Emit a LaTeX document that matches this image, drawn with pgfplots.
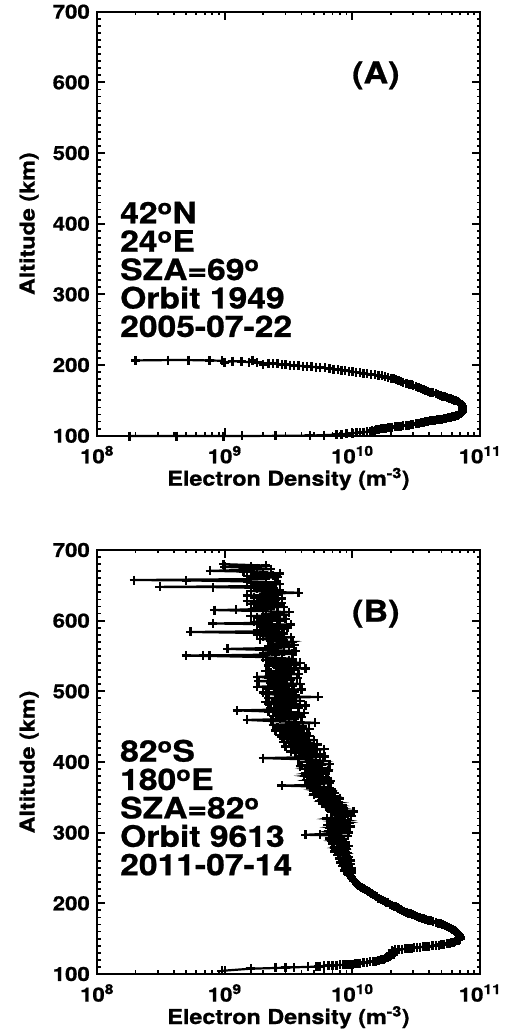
\documentclass[border=0pt]{standalone}
\usepackage{fontspec}
\setmainfont{TeX Gyre Heros}[FakeStretch=1.14, BoldFeatures={FakeBold=0.8}]
\usepackage{pgfplots}
\pgfplotsset{compat=1.18}
\pgfplotsset{
  ionostyle/.style={
    scale only axis, width=383pt, height=424pt,
    xmin=1e8, xmax=1e11, ymin=100, ymax=700,
    xtick={1e8,1e9,1e10,1e11},
    xticklabels={10\textsuperscript{8},10\textsuperscript{9},10\textsuperscript{10},10\textsuperscript{11}},
    ytick={100,200,300,400,500,600,700},
    yticklabels={100,200,300,400,500,600,700},
    minor y tick num=9,
    tick align=inside,
    xtick pos=both, ytick pos=both,
    major tick length=8pt, minor tick length=3.5pt,
    tick style={black, line width=1.8pt},
    axis line style={line width=2.2pt},
    tick label style={font=\fontsize{19.5}{19.5}\selectfont\bfseries},
    xticklabel style={anchor=base, inner sep=0pt, yshift=-27.6pt},
    yticklabel style={anchor=east, inner sep=0pt, xshift=-7pt},
    label style={font=\fontsize{20.5}{20.5}\selectfont\bfseries},
    xlabel={Electron Density (m\textsuperscript{-3})},
    ylabel={Altitude (km)},
    xlabel style={at={(axis description cs:0.5,0)}, anchor=base, inner sep=0pt, yshift=-50pt},
    ylabel style={at={(axis description cs:-0.1775,0.5)}, anchor=center, inner sep=0pt},
    clip=false,
  },
}
\tikzset{
  profstyle/.style={black, line width=2.2pt, mark=+, mark size=4.5pt, mark options={line width=2.4pt}},
  annottext/.style={anchor=base west, inner sep=0pt, font=\fontsize{29.5}{29.5}\selectfont\bfseries},
  paneltext/.style={anchor=base, inner sep=0pt, font=\fontsize{30}{30}\selectfont\bfseries},
}
\begin{document}
\begin{tikzpicture}[x=1pt,y=1pt]
\useasboundingbox (0,0) rectangle (504,1034);
% Panel A
\begin{axis}[xmode=log, ionostyle, at={(97pt,598.3pt)}, anchor=south west]
\addplot[profstyle] coordinates {
(1.8e8,99.5) (4.2e8,99.5) (9.8e8,99.5) (1.36e9,99.6) (2.5e9,99.8) (4.65e9,100.2) (6.0e9,100.8) (7.5e9,101.5) (8.2e9,102) (9.0e9,102.5)
(1.0e10,103.5) (1.08e10,104) (1.15e10,104.5) (1.22e10,105) (1.3e10,105.5) (1.38e10,106) (1.45e10,106.5) (1.42e10,107.5) (1.5e10,108) (1.55e10,108.5)
(1.6e10,109) (1.68e10,109.5) (1.75e10,110) (1.82e10,110.5) (1.9e10,111) (1.98e10,111.5) (2.05e10,112) (2.15e10,112.5) (2.25e10,113) (2.38e10,113.5)
(2.5e10,114) (2.62e10,114.5) (2.75e10,115) (2.88e10,115.5) (3.0e10,116) (3.15e10,116.8) (3.3e10,117.5) (3.45e10,118.2) (3.6e10,119) (3.75e10,119.5)
(3.9e10,120) (4.05e10,120.8) (4.2e10,121.5) (4.4e10,122) (4.6e10,122.5) (4.8e10,123) (5.0e10,123.5) (5.2e10,124) (5.4e10,124.5) (5.65e10,125.2)
(5.9e10,126) (6.1e10,126.8) (6.3e10,127.5) (6.5e10,128.2) (6.7e10,129) (6.85e10,130) (7.0e10,131) (7.1e10,132) (7.2e10,133) (7.25e10,134.2)
(7.3e10,135.5) (7.35e10,136.8) (7.35e10,138) (7.32e10,139.5) (7.3e10,141) (7.25e10,142.2) (7.2e10,143.5) (7.1e10,144.8) (7.0e10,146) (6.85e10,147.2)
(6.7e10,148.5) (6.5e10,149.5) (6.3e10,150.5) (6.1e10,151.5) (5.9e10,152.5) (5.7e10,153.2) (5.5e10,154) (5.3e10,155) (5.1e10,156) (4.9e10,157)
(4.7e10,158) (4.5e10,159.2) (4.3e10,160.5) (4.1e10,161.8) (3.9e10,163) (3.75e10,164.2) (3.6e10,165.5) (3.45e10,166.8) (3.3e10,168) (3.15e10,169.2)
(3.0e10,170.5) (2.9e10,171.8) (2.8e10,173) (2.65e10,174.2) (2.5e10,175.5) (2.4e10,176.8) (2.3e10,178) (2.2e10,179.2) (2.1e10,180.5) (2.0e10,181.5)
(1.9e10,182.5) (1.8e10,183.5) (1.7e10,184.5) (1.6e10,185.2) (1.5e10,186) (1.4e10,186.8) (1.3e10,187.5) (1.22e10,188.2) (1.15e10,189) (1.07e10,189.8)
(1.0e10,190.5) (9.4e9,191.2) (8.8e9,192) (8.2e9,192.8) (7.7e9,193.5) (7.1e9,194.2) (6.6e9,195) (6.1e9,195.8) (5.6e9,196.5) (5.2e9,197)
(4.8e9,197.5) (4.4e9,198) (4.1e9,198.5) (3.8e9,199) (3.5e9,199.5) (3.25e9,200) (3.0e9,200.5) (2.8e9,201) (2.6e9,201.5) (2.4e9,202)
(2.2e9,202.5) (2.0e9,201) (1.8e9,203.5) (1.65e9,207) (1.55e9,204) (1.35e9,205) (1.15e9,205.5) (1.0e9,203.5) (9.5e8,206) (7.6e8,206.5)
(5.2e8,207) (3.6e8,207) (2.0e8,206.5)
};
\node[annottext] at (rel axis cs:0.06,0.501) {42\textsuperscript{o}N};
\node[annottext] at (rel axis cs:0.06,0.434) {24\textsuperscript{o}E};
\node[annottext] at (rel axis cs:0.06,0.367) {SZA=69\textsuperscript{o}};
\node[annottext] at (rel axis cs:0.06,0.300) {Orbit 1949};
\node[annottext] at (rel axis cs:0.06,0.233) {2005-07-22};
\node[paneltext] at (rel axis cs:0.728,0.831) {(A)};
\end{axis}
% Panel B
\begin{axis}[xmode=log, ionostyle, at={(97pt,60pt)}, anchor=south west]
\addplot[profstyle] coordinates {
(9.5e8,104.5) (1.6e9,107.5) (2.5e9,108.5) (3.0e9,109) (3.5e9,109.5) (4.5e9,110) (5.4e9,110.5) (5.6e9,111) (5.2e9,110) (6.0e9,111.5)
(6.5e9,112) (7.0e9,112.2) (7.5e9,112.5) (8.0e9,112.8) (8.5e9,113) (9.0e9,113.2) (9.5e9,113.5) (1.0e10,114) (1.05e10,114.5) (1.1e10,115)
(1.15e10,115.5) (1.22e10,116) (1.3e10,116.5) (1.38e10,117) (1.45e10,117.5) (1.52e10,118.2) (1.6e10,119) (1.68e10,120) (1.75e10,121) (1.8e10,122)
(1.85e10,123) (1.9e10,124) (1.95e10,125) (2.0e10,126) (2.1e10,127) (2.05e10,128) (2.0e10,129) (2.1e10,130) (2.15e10,131) (2.1e10,132)
(2.05e10,133) (2.15e10,134) (2.3e10,134.5) (2.45e10,135) (2.6e10,135.5) (2.75e10,136) (2.9e10,136.5) (3.05e10,137) (3.2e10,137.5) (3.4e10,138)
(3.6e10,138.5) (3.8e10,139) (4.0e10,139.5) (4.25e10,140) (4.5e10,140.5) (4.75e10,141) (5.0e10,141.5) (5.25e10,142.2) (5.5e10,143) (5.75e10,143.8)
(6.0e10,144.5) (6.2e10,145.2) (6.4e10,146) (6.6e10,147) (6.8e10,148) (6.9e10,149.2) (7.0e10,150.5) (7.0e10,151.8) (6.9e10,153) (6.85e10,154.5)
(6.8e10,156) (6.7e10,157.5) (6.6e10,159) (6.45e10,160.5) (6.3e10,162) (6.1e10,163.5) (5.9e10,165) (5.7e10,166.2) (5.5e10,167.5) (5.3e10,168.8)
(5.1e10,170) (4.9e10,171) (4.7e10,172) (4.5e10,173) (4.3e10,174) (4.1e10,175) (3.9e10,176) (3.75e10,177) (3.6e10,178) (3.5e10,179)
(3.35e10,180) (3.2e10,181.2) (3.1e10,182.5) (2.95e10,183.8) (2.85e10,185) (2.75e10,186.2) (2.65e10,187.5) (2.55e10,188.8) (2.45e10,190) (2.38e10,191.2)
(2.3e10,192.5) (2.25e10,193.8) (2.2e10,195) (2.12e10,196.2) (2.05e10,197.5) (1.98e10,199) (1.9e10,200.5) (1.85e10,201.8) (1.8e10,203) (1.74e10,204.5)
(1.68e10,206) (1.6e10,207.5) (1.55e10,209) (1.5e10,210.5) (1.45e10,212) (1.41e10,213.5) (1.38e10,215) (1.34e10,216.5) (1.3e10,218) (1.26e10,219.5)
(1.22e10,221) (1.18e10,222.5) (1.15e10,224) (1.12e10,225.5) (1.1e10,227) (1.07e10,228.5) (1.05e10,230) (1.03e10,231.5) (1.02e10,233) (1.0e10,234.5)
(9.8e9,236) (9.9e9,237.5) (9.6e9,239) (9.4e9,240.5) (9.3e9,242) (9.8e9,243.5) (9.8e9,245) (8.7e9,246.5) (9.0e9,248) (9.9e9,249.5)
(9.4e9,251) (8.4e9,252.5) (8.6e9,254) (9.3e9,255) (9.6e9,256) (8.1e9,257.5) (8.3e9,259) (9.7e9,260.5) (9.2e9,262) (8.0e9,263)
(7.9e9,264) (9.4e9,265.5) (9.0e9,267) (7.7e9,268.5) (8.0e9,270) (9.2e9,271) (8.8e9,272) (7.3e9,273.5) (7.4e9,275) (9.0e9,276.5)
(8.5e9,278) (7.2e9,279) (7.6e9,280) (9.3e9,281.5) (8.9e9,283) (7.0e9,284) (7.1e9,285) (8.7e9,286.5) (8.2e9,288) (6.9e9,289)
(7.4e9,290) (8.6e9,291) (6.6e9,292) (7.3e9,293) (7.9e9,294) (9.2e9,295.5) (4.3e9,297) (5.6e9,298) (6.8e9,299) (9.4e9,300)
(8.1e9,301) (6.5e9,302) (7.0e9,303) (8.8e9,304) (9.0e9,305) (7.1e9,306) (6.6e9,307) (9.6e9,308.5) (8.4e9,310) (6.4e9,311)
(7.2e9,312) (8.9e9,313) (9.5e9,314) (7.6e9,315) (7.0e9,316) (9.2e9,317.5) (8.2e9,319) (6.3e9,320) (6.8e9,321) (8.5e9,322.5)
(9.8e9,324) (7.7e9,325) (7.4e9,326) (9.0e9,327) (8.6e9,328) (6.9e9,329) (1.02e10,330) (7.5e9,331.5) (6.9e9,333) (8.6e9,334)
(8.0e9,335) (6.4e9,336) (6.2e9,337) (8.3e9,338.5) (7.6e9,340) (5.9e9,341) (6.0e9,342) (7.8e9,343) (7.2e9,344) (5.5e9,345)
(5.7e9,346) (7.9e9,347.5) (8.0e9,349) (6.2e9,350) (5.5e9,351) (7.2e9,352) (6.8e9,353) (5.0e9,354) (5.2e9,355) (7.3e9,356.5)
(7.0e9,358) (5.4e9,359) (5.0e9,360) (6.8e9,361) (6.5e9,362) (4.9e9,363) (4.7e9,364) (6.0e9,365) (2.8e9,366.5) (4.6e9,367.5)
(5.6e9,369) (6.6e9,370) (4.5e9,371) (5.2e9,372) (6.8e9,373) (4.4e9,374.5) (4.9e9,376) (6.4e9,377) (6.2e9,378) (4.6e9,379)
(4.2e9,380) (5.5e9,381.5) (5.8e9,383) (4.3e9,384) (4.6e9,385) (6.2e9,386.5) (6.5e9,388) (4.7e9,389) (4.3e9,390) (5.8e9,391.5)
(5.4e9,393) (3.9e9,394) (4.0e9,395) (5.7e9,396) (6.6e9,397) (4.8e9,398.5) (4.4e9,400) (5.9e9,401.5) (5.2e9,403) (3.8e9,404)
(2.0e9,405.5) (4.8e9,407) (6.1e9,408) (4.6e9,409) (4.1e9,410) (5.6e9,411) (3.6e9,412.5) (5.0e9,414) (3.3e9,415) (4.5e9,416.5)
(6.0e9,418) (3.5e9,419) (4.8e9,420.5) (3.0e9,422) (4.2e9,423) (5.3e9,424.5) (3.4e9,426) (4.6e9,427) (2.9e9,428.5) (4.4e9,430)
(5.0e9,431) (3.1e9,432.5) (4.0e9,434) (2.8e9,435) (4.6e9,436.5) (2.7e9,438) (3.6e9,439) (4.4e9,440.5) (3.0e9,442) (3.9e9,443)
(2.5e9,444.5) (3.7e9,446) (4.6e9,447) (2.6e9,448.5) (4.1e9,450) (3.2e9,451) (2.4e9,452.5) (3.6e9,454) (5.1e9,455.5) (3.2e9,457)
(2.3e9,458) (1.5e9,459.5) (3.5e9,461) (2.7e9,462) (4.0e9,463.5) (2.4e9,465) (3.6e9,466) (2.6e9,467.5) (4.2e9,469) (3.3e9,470)
(2.2e9,471.5) (1.25e9,473) (3.0e9,474.5) (2.3e9,476) (3.8e9,477) (2.6e9,478.5) (4.3e9,480) (3.0e9,481) (2.2e9,482.5) (3.4e9,484)
(2.1e9,485) (3.9e9,486.5) (2.5e9,488) (3.3e9,489) (2.2e9,490.5) (5.4e9,492) (2.7e9,493) (3.6e9,494.5) (2.1e9,496) (3.2e9,497)
(2.0e9,498.5) (3.5e9,500) (2.6e9,501) (4.0e9,502.5) (2.2e9,504) (3.0e9,505) (1.8e9,506.5) (3.4e9,508) (2.4e9,509) (3.9e9,510.5)
(2.3e9,512) (2.9e9,513) (1.85e9,514.5) (3.3e9,516) (2.5e9,517) (3.7e9,518.5) (2.2e9,519.5) (1.8e9,520.5) (3.1e9,522) (2.5e9,523)
(3.8e9,524.5) (2.3e9,526) (3.3e9,527) (2.1e9,528.5) (3.5e9,530) (2.7e9,531) (4.3e9,532.5) (2.6e9,534) (3.1e9,535) (2.2e9,536.5)
(3.6e9,538) (2.4e9,539) (3.9e9,540.5) (2.3e9,542) (3.2e9,543) (2.1e9,544.5) (3.4e9,546) (2.8e9,547) (2.0e9,548.5) (7.6e8,550)
(5.0e8,550.5) (6.8e8,550.8) (2.5e9,552) (3.4e9,553) (2.0e9,554.5) (2.9e9,556) (3.6e9,557) (2.2e9,558.5) (1.05e9,560) (2.6e9,561.5)
(3.2e9,563) (2.2e9,564) (3.5e9,565.5) (2.4e9,567) (3.0e9,568) (3.4e9,570) (2.3e9,571) (2.9e9,572.5) (1.9e9,574) (2.7e9,575)
(3.3e9,576.5) (2.0e9,578) (2.7e9,579) (1.8e9,580.5) (2.9e9,582) (5.4e8,584) (2.5e9,585) (1.8e9,586.5) (2.8e9,588) (2.0e9,589)
(3.1e9,590.5) (1.9e9,592) (2.6e9,593) (3.3e9,594.5) (8.1e8,596) (2.2e9,597) (1.7e9,598.5) (2.7e9,600) (1.9e9,601) (3.0e9,602.5)
(1.8e9,604) (2.5e9,605) (1.6e9,606.5) (2.9e9,608) (2.1e9,609) (2.6e9,610.5) (3.2e9,612) (2.0e9,613.5) (8.3e8,615) (1.23e9,615.5)
(2.3e9,617) (1.7e9,618) (2.9e9,619.5) (1.8e9,621) (2.6e9,622) (1.6e9,623.5) (2.8e9,625) (2.0e9,626) (1.5e9,627.5) (2.5e9,629)
(1.9e9,630) (2.8e9,631.5) (1.7e9,633) (2.3e9,634) (1.5e9,635.5) (2.6e9,637) (2.0e9,638) (3.8e9,639.5) (2.1e9,641) (1.6e9,642)
(2.7e9,643.5) (1.8e9,645) (2.4e9,646) (8.1e8,647.5) (3.1e8,647.8) (2.2e9,649) (1.7e9,650) (2.7e9,651.5) (1.6e9,653) (2.5e9,654)
(1.5e9,655.5) (5.0e8,657) (1.95e8,657.5) (2.1e9,659) (1.6e9,660) (2.6e9,661.5) (1.5e9,663) (2.4e9,664) (1.7e9,665.5) (2.7e9,667)
(2.0e9,668) (1.4e9,669.5) (7.7e8,670.5) (1.6e9,672) (2.3e9,673) (1.8e9,674.5) (1.0e9,676) (1.6e9,677) (2.1e9,678) (9.8e8,680)
};
\node[annottext] at (rel axis cs:0.06,0.501) {82\textsuperscript{o}S};
\node[annottext] at (rel axis cs:0.06,0.434) {180\textsuperscript{o}E};
\node[annottext] at (rel axis cs:0.06,0.367) {SZA=82\textsuperscript{o}};
\node[annottext] at (rel axis cs:0.06,0.300) {Orbit 9613};
\node[annottext] at (rel axis cs:0.06,0.233) {2011-07-14};
\node[paneltext] at (rel axis cs:0.728,0.831) {(B)};
\end{axis}
\end{tikzpicture}
\end{document}
